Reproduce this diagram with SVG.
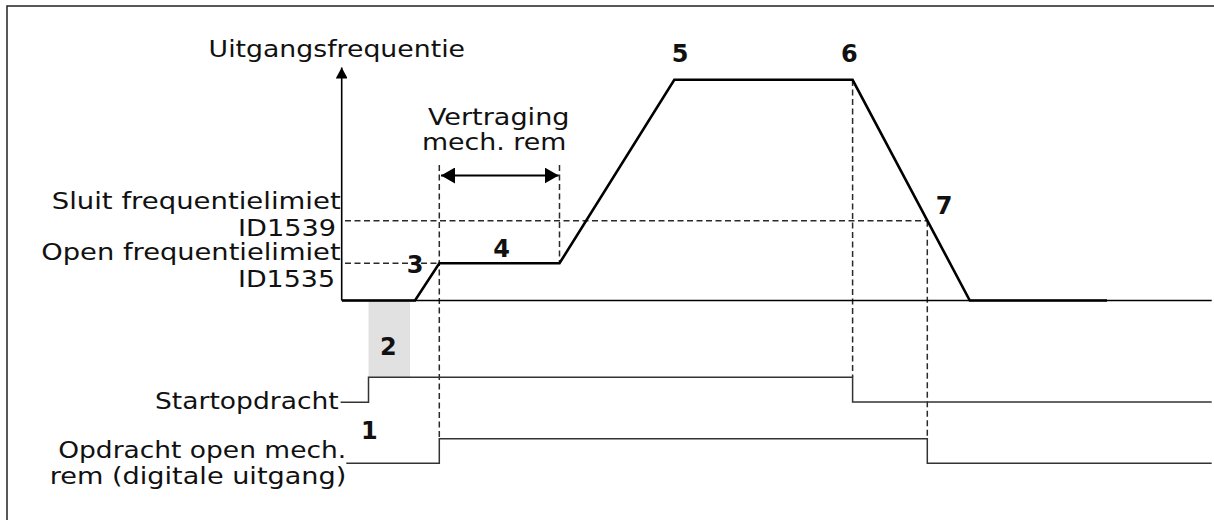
<svg xmlns="http://www.w3.org/2000/svg" width="1214" height="520" viewBox="0 0 1214 520">
<style>
.lbl{font-family:"DejaVu Sans","Liberation Sans",sans-serif;font-size:23px;fill:#111}
.num{font-family:"DejaVu Sans","Liberation Sans",sans-serif;font-size:24px;font-weight:bold;fill:#111;text-anchor:middle}
.dash{fill:none;stroke:#2a2a2a;stroke-width:1.5;stroke-dasharray:6 3.5}
.step{fill:none;stroke:#333;stroke-width:1.5}
.sig{fill:none;stroke:#000;stroke-width:2.6;stroke-linejoin:miter}
.axis{fill:none;stroke:#000;stroke-width:1.6}
</style>
<defs>
<marker id="ah" markerWidth="14" markerHeight="16" refX="14" refY="8" orient="auto-start-reverse" markerUnits="userSpaceOnUse">
<path d="M0,0 L14,8 L0,16 Z" fill="#000"/>
</marker>
<marker id="ax" markerWidth="12" markerHeight="11" refX="11" refY="6" orient="auto" markerUnits="userSpaceOnUse">
<path d="M0,0 L11,6 L0,12 Z" fill="#000"/>
</marker>
</defs>
<rect width="1214" height="520" fill="#fff"/>
<path d="M7,520 V6 H1214" fill="none" stroke="#222" stroke-width="1.5"/>
<g id="window2">
<rect x="368.5" y="301" width="41.5" height="76" fill="#e1e1e1"/>
</g>
<g id="connectors">
<path class="dash" d="M345,220.7 H927.3"/>
<path class="dash" d="M345,263.3 H439.3"/>
<path class="dash" d="M439.3,165 V438.7"/>
<path class="dash" d="M559.5,165 V263.3"/>
<path class="dash" d="M852.6,80 V377.3"/>
<path class="dash" d="M927.3,220.7 V438.7"/>
<path d="M441,175.5 H558.7" fill="none" stroke="#000" stroke-width="1.8" marker-start="url(#ah)" marker-end="url(#ah)"/>
</g>
<g id="axes">
<path class="axis" d="M341.7,300.5 V67.5" marker-end="url(#ax)"/>
<path class="axis" d="M341.7,300.5 H1211.7"/>
</g>
<g id="frequency-signal">
<path class="sig" d="M342,300.5 H415 L439.3,263.3 H559.5 L674.3,79.8 H852.6 L969.8,300.5 H1107"/>
</g>
<g id="start-signal">
<path class="step" d="M340.6,402.3 H368.5 V377.3 H852.6 V402 H1211.7"/>
</g>
<g id="brake-signal">
<path class="step" d="M346.3,463.2 H439.3 V438.7 H927.3 V463.3 H1211.7"/>
</g>
<g id="labels">
<text class="lbl" x="208.6" y="56.7" textLength="256.4" lengthAdjust="spacingAndGlyphs">Uitgangsfrequentie</text>
<text class="lbl" x="427.9" y="124.5" textLength="141.6" lengthAdjust="spacingAndGlyphs">Vertraging</text>
<text class="lbl" x="422" y="150" textLength="144.4" lengthAdjust="spacingAndGlyphs">mech. rem</text>
<text class="lbl" x="51.7" y="209.3" textLength="289" lengthAdjust="spacingAndGlyphs">Sluit frequentielimiet</text>
<text class="lbl" x="238" y="236" textLength="98" lengthAdjust="spacingAndGlyphs">ID1539</text>
<text class="lbl" x="41.3" y="260" textLength="299.3" lengthAdjust="spacingAndGlyphs">Open frequentielimiet</text>
<text class="lbl" x="238" y="286.7" textLength="97" lengthAdjust="spacingAndGlyphs">ID1535</text>
<text class="lbl" x="155" y="409.3" textLength="183.7" lengthAdjust="spacingAndGlyphs">Startopdracht</text>
<text class="lbl" x="58.2" y="458.3" textLength="288" lengthAdjust="spacingAndGlyphs">Opdracht open mech.</text>
<text class="lbl" x="49.8" y="484" textLength="296.5" lengthAdjust="spacingAndGlyphs">rem (digitale uitgang)</text>
</g>
<g id="markers">
<text class="num" x="369.3" y="439.3">1</text>
<text class="num" x="388.4" y="355">2</text>
<text class="num" x="415" y="273.3">3</text>
<text class="num" x="501.7" y="257.3">4</text>
<text class="num" x="680" y="61.7">5</text>
<text class="num" x="849.3" y="61.7">6</text>
<text class="num" x="944" y="214.3">7</text>
</g>
</svg>
